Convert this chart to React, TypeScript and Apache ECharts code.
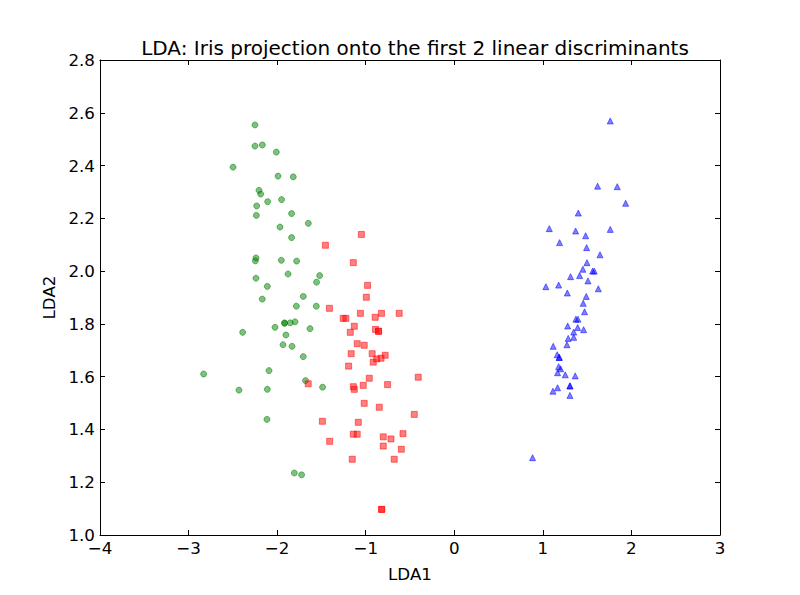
import React, { useEffect, useRef } from "react";
import * as echarts from "echarts";

// Setosa (green circles)
const setosaLDA1 = [
  -2.25, -2.25, -2.167, -2.009, -2.498, -1.99, -1.818, -2.205, -2.186, -2.107,
  -1.95, -2.231, -2.235, -1.837, -1.648, -1.968, -1.837, -2.239, -2.246, -1.953,
  -1.78, -2.239, -1.877, -1.52, -2.111, -1.555, -2.168, -1.705, -1.783, -1.558,
  -1.916, -1.916, -1.852, -1.798, -2.389, -2.024, -1.629, -1.901, -1.934, -1.832,
  -1.705, -2.092, -2.83, -1.679, -1.487, -2.431, -2.111, -2.115, -1.806, -1.724,
];
const setosaLDA2 = [
  2.554, 2.474, 2.478, 2.451, 2.394, 2.36, 2.357, 2.306, 2.292, 2.263,
  2.271, 2.247, 2.211, 2.218, 2.181, 2.167, 2.127, 2.05, 2.039, 2.041,
  2.038, 1.973, 1.989, 1.983, 1.942, 1.958, 1.894, 1.904, 1.867, 1.867,
  1.803, 1.803, 1.804, 1.808, 1.768, 1.787, 1.782, 1.758, 1.721, 1.715,
  1.676, 1.623, 1.61, 1.585, 1.56, 1.549, 1.552, 1.438, 1.235, 1.228,
];

// Versicolor (red squares)
const versicolorLDA1 = [
  -1.049, -1.455, -1.14, -0.979, -0.993, -1.41, -1.254, -1.224, -1.06, -0.822,
  -0.622, -0.893, -1.129, -1.174, -0.889, -0.855, -1.096, -1.017, -1.164, -0.927,
  -0.78, -0.875, -0.827, -0.915, -1.193, -0.96, -0.407, -1.649, -1.14, -1.129,
  -1.028, -0.753, -1.017, -0.847, -0.452, -1.489, -1.084, -1.14, -1.096, -0.802,
  -0.715, -0.579, -1.407, -0.802, -0.598, -1.152, -0.678, -0.82, -0.82, -0.855,
];
const versicolorLDA2 = [
  2.139, 2.098, 2.032, 1.946, 1.901, 1.859, 1.821, 1.821, 1.84, 1.84,
  1.84, 1.825, 1.791, 1.768, 1.779, 1.772, 1.725, 1.719, 1.687, 1.687,
  1.681, 1.667, 1.67, 1.655, 1.64, 1.594, 1.598, 1.573, 1.562, 1.552,
  1.567, 1.57, 1.499, 1.484, 1.457, 1.431, 1.427, 1.382, 1.382, 1.372,
  1.364, 1.384, 1.355, 1.337, 1.325, 1.287, 1.287, 1.097, 1.097, 1.772,
];

// Virginica (blue triangles)
const virginicaLDA1 = [
  1.761, 1.618, 1.84, 1.935, 1.4, 1.073, 1.37, 1.761, 1.483, 1.189,
  1.494, 1.645, 1.498, 1.562, 1.58, 1.452, 1.313, 1.415, 1.509, 1.034,
  1.178, 1.276, 1.626, 1.49, 1.456, 1.471, 1.373, 1.396, 1.28, 1.393,
  1.46, 1.348, 1.286, 1.348, 1.272, 1.117, 1.162, 1.185, 1.178, 1.2,
  1.166, 1.253, 1.365, 1.306, 1.306, 1.166, 1.114, 1.306, 0.884, 1.185,
];
const virginicaLDA2 = [
  2.569, 2.322, 2.32, 2.257, 2.22, 2.161, 2.152, 2.158, 2.134, 2.108,
  2.089, 2.062, 2.032, 2.0, 2.0, 2.007, 1.979, 1.983, 1.963, 1.941,
  1.947, 1.917, 1.933, 1.904, 1.878, 1.846, 1.818, 1.818, 1.792, 1.786,
  1.778, 1.769, 1.745, 1.749, 1.721, 1.715, 1.683, 1.673, 1.638, 1.63,
  1.615, 1.607, 1.603, 1.565, 1.565, 1.558, 1.545, 1.529, 1.293, 1.673,
];

const xMin = -4;
const xMax = 3;
const yMin = 1.0;
const yMax = 2.8;

const FONT = "DejaVu Sans";

function pairs(xs: number[], ys: number[]) {
  return xs.map((x, i) => [x, ys[i]]);
}

export default function App() {
  const ref = useRef<HTMLDivElement>(null);
  useEffect(() => {
    const chart = echarts.init(ref.current!, null, { renderer: "svg" });
    const minus = (v: number) => String(v).replace("-", "\u2212");
    const axisLine = { show: true, onZero: false, lineStyle: { color: "#000", width: 1 } };
    const axisTick = { show: true, inside: true, length: 5, lineStyle: { color: "#000", width: 1 } };
    const labelStyle = { color: "#000", fontSize: 16.7, fontFamily: FONT };
    const mk = (color: string) => ({
      color,
      opacity: 1,
      borderColor: color,
      borderWidth: 1,
    });
    chart.setOption({
      animation: false,
      backgroundColor: "#fff",
      title: {
        text: "LDA: Iris projection onto the first 2 linear discriminants",
        left: 410,
        top: 33,
        textAlign: "center",
        textStyle: { color: "#000", fontSize: 20, fontWeight: "normal", fontFamily: FONT },
      },
      grid: { left: 100, right: 80, top: 60, bottom: 60, containLabel: false },
      xAxis: [
        {
          type: "value",
          min: xMin,
          max: xMax,
          interval: 1,
          position: "bottom",
          axisLine,
          axisTick,
          splitLine: { show: false },
          axisLabel: { ...labelStyle, margin: 4, formatter: minus },
          name: "LDA1",
          nameLocation: "middle",
          nameGap: 30,
          nameTextStyle: labelStyle,
        },
        {
          type: "value",
          min: xMin,
          max: xMax,
          interval: 1,
          position: "top",
          axisLine,
          axisTick,
          splitLine: { show: false },
          axisLabel: { show: false },
        },
      ],
      yAxis: [
        {
          type: "value",
          min: yMin,
          max: yMax,
          interval: 0.2,
          position: "left",
          axisLine,
          axisTick,
          splitLine: { show: false },
          axisLabel: { ...labelStyle, margin: 5, formatter: (v: number) => v.toFixed(1) },
          name: "LDA2",
          nameLocation: "middle",
          nameGap: 37,
          nameTextStyle: labelStyle,
        },
        {
          type: "value",
          min: yMin,
          max: yMax,
          interval: 0.2,
          position: "right",
          axisLine,
          axisTick,
          splitLine: { show: false },
          axisLabel: { show: false },
        },
      ],
      series: [
        {
          type: "scatter",
          name: "setosa",
          symbol: "circle",
          symbolSize: 6,
          data: pairs(setosaLDA1, setosaLDA2),
          itemStyle: mk("rgba(0,128,0,0.5)"),
        },
        {
          type: "scatter",
          name: "versicolor",
          symbol: "rect",
          symbolSize: 6,
          data: pairs(versicolorLDA1, versicolorLDA2),
          itemStyle: mk("rgba(255,0,0,0.5)"),
        },
        {
          type: "scatter",
          name: "virginica",
          symbol: "triangle",
          symbolSize: 6,
          data: pairs(virginicaLDA1, virginicaLDA2),
          itemStyle: mk("rgba(0,0,255,0.5)"),
        },
      ],
    });
    return () => chart.dispose();
  }, []);
  return (
    <div
      ref={ref}
      style={{ position: "fixed", left: 0, top: 0, width: 800, height: 595 }}
    />
  );
}
